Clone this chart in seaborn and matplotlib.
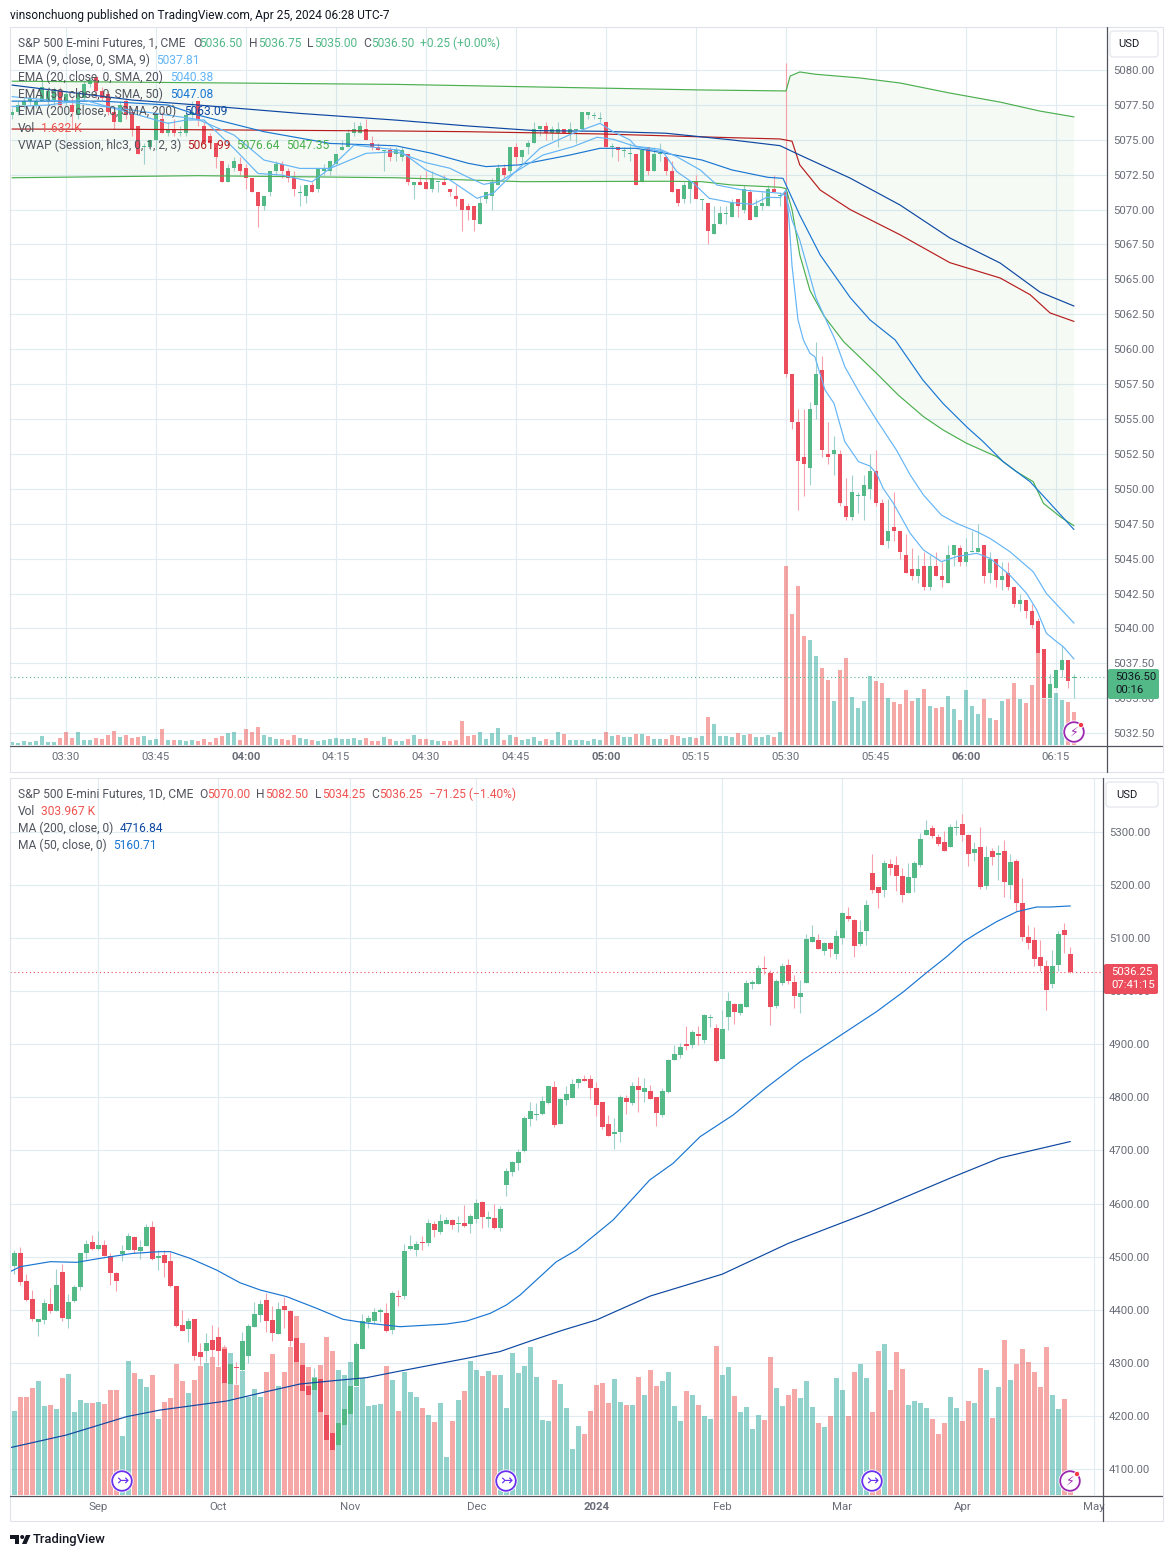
import numpy as np
import matplotlib
matplotlib.use("Agg")
import matplotlib.pyplot as plt
import seaborn as sns
from matplotlib.patches import Rectangle, Circle, FancyBboxPatch, Polygon

# ---------- 1 minute pane ----------
min_open = [5076.75,5077,5077.5,5077.75,5077.5,5077.75,5077.75,5077.75,5078.5,5077.75,
 5077.5,5076.75,5078,5079,5079.5,5078.5,5078.25,5077,5076.25,5077.75,
 5077,5076,5074.5,5074.5,5075,5076.5,5075.5,5075.75,5075.5,5075.5,
 5076.75,5077.75,5076,5075.25,5074.75,5073.5,5072,5073,5073.25,5073,
 5072.25,5071.25,5070.25,5071.25,5072.75,5073.25,5072.75,5072.25,5071.25,5071,
 5071.75,5071.5,5072.75,5072.75,5073.25,5074.25,5074.5,5075.5,5075.5,5075.75,
 5074.75,5074.5,5074.25,5074.25,5074,
 5073.75,5074,5071.75,5072,5072,5071.5,5072,5072,5071.5,5071,
 5070.75,5070.25,5070.25,5069,5070.75,5071,5071.75,5073,5072.75,5074.5,
 5073.75,5074.5,5074.75,5075.75,5076,5075.5,5075.5,5075.75,5075.5,5075.75,
 5075.75,5076.75,5076.75,5076.5,5076.25,5074.5,5074.5,5074.25,5074,5074,
 5072,5074.5,5072.75,5074,5073.75,5072.75,5071.5,5070.75,5071.5,5072,
 5070.75,5070.5,5068.25,5069,5069.75,5069.5,5070.75,5070,5071.25,5069.5,
 5070.25,5070.25,5071.5,5071,
 5071.25,5058.25,5054.75,5052.25,5051.5,5056,5058.5,5052.5,5052.5,5052.5,
 5048.75,5048,5049.5,5049.5,5050,5051.25,5049,5046.25,5047.25,5047,
 5045.25,5044.25,5043.75,5044.5,5043,5044.5,5043.75,5043.25,5045.25,5045.75,
 5044.75,5045.5,5045.5,5046,5044,5045,5043.5,5044,5043,5041.75,
 5042,5041.25,5040.5,5038.5,5035,5035.75,5037,5037.75,5036.5]
min_high = [5077.25,5077.75,5078,5078.25,5078,5079.25,5078.75,5078.75,5078.75,5078.5,
 5078,5078.5,5079.25,5079.5,5079.5,5078.75,5078.5,5077.25,5077.75,5078,
 5077.25,5076,5074.75,5075,5077,5077,5076.25,5076.5,5076,5077,
 5077.75,5077.75,5076.25,5075.5,5074.75,5073.5,5073.25,5073.75,5073.75,5073.25,
 5072.25,5071.25,5071,5072.75,5073.5,5073.5,5073,5072.75,5071.75,5071.75,
 5072,5073,5073.25,5073.5,5074,5075,5075.75,5076.25,5076.25,5076.5,
 5075.25,5074.75,5074.25,5074.5,5074.5,
 5074.5,5074,5072,5072.5,5072.75,5072.75,5072,5072.5,5071.5,5071.75,
 5070.75,5070.5,5070.25,5071,5071.25,5072.25,5073.25,5073.25,5074.5,5074.75,
 5074.25,5075,5076.25,5076,5076.25,5076,5076.25,5075.75,5076.25,5075.75,
 5077,5077,5077,5077,5076.25,5074.75,5074.5,5074.5,5074.75,5074,
 5074.25,5074.5,5074.5,5074.75,5073.75,5073.5,5071.5,5072,5072,5072.5,
 5070.75,5070.5,5070.25,5070.25,5070.25,5070.75,5070.75,5071.75,5071.5,5070.75,
 5071.25,5071.75,5072.5,5071.25,
 5080.5,5058.25,5055.75,5055.75,5056.25,5060.5,5059.5,5054.75,5053.75,5052.75,
 5050.75,5051,5049.75,5051,5052.5,5052.75,5049.25,5049.25,5049.75,5047,
 5046.75,5045.75,5045.25,5045.5,5045.25,5045.5,5044.75,5046,5046,5046,
 5046.5,5047,5047.5,5046,5045.5,5045,5044.75,5044.75,5043,5042.5,
 5042,5041.75,5040.75,5038.5,5036.75,5037,5038.75,5037.75,5036.75]
min_low = [5076.5,5076.75,5077.25,5077.5,5077.25,5077.75,5077.5,5077.5,5077.25,5077.5,
 5075.75,5076.5,5077.75,5078.75,5078,5077.75,5076.75,5075.75,5076.25,5076.5,
 5075.25,5074,5073.25,5074.25,5074.25,5075.5,5075.25,5075.25,5075.25,5075.25,
 5076.5,5076,5074.75,5074.75,5073,5072,5072,5072.75,5072.5,5071.5,
 5071.25,5068.75,5070,5071,5072.5,5072.25,5072,5071,5070.25,5070.5,
 5071.25,5071.25,5072.5,5072.5,5073.25,5074.25,5074.5,5075.25,5075.5,5075,
 5074.25,5074.25,5072.75,5073.5,5073.5,
 5073.5,5071.75,5070.75,5071.75,5071.5,5071.25,5071.25,5071.75,5071,5070.25,
 5068.5,5069.25,5068.5,5069,5070.5,5070,5071.75,5072.25,5072.5,5073.25,
 5073.25,5074,5074.75,5075.25,5075,5075,5074.5,5075.5,5075,5074.75,
 5075.75,5076.5,5076.5,5076.25,5074.5,5073.75,5073.5,5073.75,5073.5,5071.75,
 5072,5072.5,5072.75,5073.5,5072.5,5071.25,5070.25,5070.5,5070.5,5070.75,
 5070,5067.5,5068.25,5069,5069,5069.5,5069.5,5069.75,5069.25,5069.5,
 5070,5070.25,5071.25,5070.25,
 5058,5054.25,5048.5,5049.5,5050.25,5055,5052.25,5051.75,5051,5048.75,
 5047.75,5047.75,5048.25,5047.75,5049.25,5048.75,5046,5045.75,5046.25,5045,
 5044,5043.5,5043.25,5042.75,5042.75,5043.75,5043,5043.25,5044.5,5044.5,
 5044.5,5045.5,5045.5,5043.25,5043.25,5043,5042.75,5042.75,5041.5,5041.25,
 5040.75,5040,5038.25,5035,5035,5035.75,5036.5,5035.75,5035]
min_close = [5077,5077.5,5077.75,5078,5077.75,5078.75,5078.5,5078.5,5077.5,5078.25,
 5077,5078.25,5079,5079.25,5078.5,5078,5077,5076.25,5077.5,5076.75,
 5075.75,5074,5074.5,5075,5076.75,5075.5,5075.75,5075.5,5075.5,5076.75,
 5077,5076.5,5074.75,5074.75,5073.75,5072,5073,5073.5,5072.75,5072.25,
 5071.25,5070.25,5071,5072.75,5073.25,5072.75,5072.25,5071.5,5071.25,5071.75,
 5071.25,5073,5073,5073.5,5074,5074.5,5075.5,5075.75,5076,5075,
 5074.5,5074.25,5074.25,5073.75,5074.25,
 5074.25,5072,5072,5071.75,5071.5,5072.25,5072,5071.75,5071.25,5070.75,
 5070,5070,5069.25,5070.5,5071.25,5072,5073,5072.5,5074.5,5073.75,
 5074.25,5074.75,5075.75,5076,5075.5,5075.75,5075.75,5075.5,5075.75,5075.75,
 5077,5077,5076.75,5076.5,5074.5,5074.5,5074.25,5074.25,5074,5071.75,
 5074.25,5072.75,5074,5074,5072.75,5071.25,5070.5,5071.75,5072,5070.75,
 5070.75,5068.5,5069,5069.75,5069.75,5070.5,5070.25,5071.5,5069.25,5070.25,
 5070.5,5071.5,5071.25,5071,
 5058.25,5054.75,5052,5051.75,5055.75,5058.25,5052.75,5052.25,5052.75,5049,
 5048,5049.75,5049.5,5050.25,5051.25,5049,5046,5047,5047,5045.5,
 5044,5043.75,5044.25,5043,5044.5,5043.75,5043.5,5045.25,5046,5044.75,
 5045.5,5045.5,5045.75,5043.75,5045,5043.5,5043.75,5043,5041.75,5042,
 5041.25,5040.25,5038.25,5035,5036,5037,5037.75,5036.25,5036.5]
min_vol = [.15,.10,.20,.15,.20,.44,.15,.15,.34,.64,.34,.64,.25,.25,.34,.29,.49,.69,.39,.49,
 .34,.39,.44,.25,.29,.78,.25,.25,.25,.20,.25,.20,.29,.15,.34,.44,.59,.64,.25,.78,
 .64,.88,.49,.39,.29,.29,.25,.49,.34,.29,.25,.20,.25,.29,.34,.29,.29,.34,.25,.34,
 .20,.20,.39,.29,.20,.20,.29,.49,.29,.29,.25,.20,.20,.20,.25,1.18,.44,.49,.64,.29,
 .59,.83,.25,.49,.39,.25,.29,.39,.20,.29,.25,.64,.54,.25,.25,.25,.20,.29,.25,.64,
 .44,.49,.39,.39,.54,.54,.44,.29,.29,.29,.49,.44,.34,.39,.34,.44,1.37,1.03,.44,.44,
 .39,.59,.49,.54,.39,.39,.49,.39,.64,
 8.79,6.44,7.81,5.36,5.16,4.38,3.79,3.2,2.17,3.69,4.28,2.37,1.83,2.17,3.4,3.15,3.06,2.32,2.12,2.03,
 2.71,2.17,2.32,2.76,1.93,1.83,1.88,2.42,1.78,1.24,2.71,1.93,1.54,2.27,1.34,1.24,2.17,2.27,3.06,2.27,
 2.08,2.96,4.53,2.27,2.27,2.57,2.22,2.12,1.63]
min_vol_dir = ("GGGGGGGG" "RRRGGGRRRR" "GRRRGGGRGR" "GGGRRRRRGG" "RRRRGGGRRR" "GGRGGGGGGG" "GRRRGRGGRG"
 "RRGGRRRRRR" "GGGGRGRGGG" "GRGGRGGGGG" "GRGRGGRGRG" "GRRRGGRGRG" "GGGRGRGGGR" "GRRRRGGRRG"
 "RRGGGGRRGR" "RRRGRGRRGG" "RGGGRGRGRR" "GRRRRGGGRR")
first_minute = -9   # minutes relative to 03:30

ema9_t = [-9,-3,3,11,17,20,23,28,32,36,41,44,48,55.5,60,64,68.5,71.2,74.6,79,84.5,89,91.2,94,95,99.5,101.8,104.6,107.2,111,114.5,116.8,119,120,120.5,121,122,122.9,124,124.8,126.5,128,129.8,132.1,134,135.1,136.2,137.9,140.7,142.9,145.9,148.4,151.8,154,157.3,160.1,161.8,163.4,165.1,166.2,168]
ema9_v = [5077.37,5077.49,5077.85,5076.9,5076.18,5076.42,5076.42,5074.38,5072.59,5072.47,5071.99,5072.95,5074.62,5074.26,5072.84,5072.12,5070.81,5071.17,5072.6,5074.39,5075.47,5076.18,5075.58,5074.99,5074.51,5074.15,5072.72,5071.88,5070.81,5070.5,5070.38,5070.88,5070.86,5071.4,5069.25,5066,5062.1,5060.66,5059.7,5059.47,5057.08,5056.12,5053.38,5051.94,5051.63,5051.1,5050.03,5048.96,5046.81,5045.62,5044.78,5045.14,5045.38,5045.02,5043.82,5042.51,5041.32,5039.65,5039.05,5038.69,5037.81]
ema20_t = [-9,0,11,22,28,33,39,44,50,55,60,64,66.8,69.6,72.3,76.8,79.5,84.5,88.5,91.2,94.6,99,101.8,105.7,108.5,112.8,119,120,121,122.3,125,128.2,129.8,132.3,135.1,138.4,140.7,142.9,145.9,148.4,151.8,154,157.3,161.2,163.4,168]
ema20_v = [5078.09,5077.73,5077.13,5076.46,5075.34,5073.55,5072.95,5072.95,5074.03,5074.15,5073.36,5072.96,5072.36,5071.81,5072,5073.2,5073.91,5074.51,5075.18,5075.04,5074.56,5074.32,5073.79,5072.84,5071.76,5071.4,5071.17,5071,5069.25,5067.8,5063.67,5060.66,5058.75,5056.84,5054.93,5052.78,5050.99,5049.56,5048.12,5047.53,5046.93,5046.45,5045.5,5044.06,5042.5,5040.38]
ema50_t = [-9,-5,6,17,22,33,44,55,61,67,70,75.5,84,89,95,100,106,111,117,119.5,122.3,125.7,130.7,134,138.2,142.8,146.2,150.2,152.8,156.2,160.7,163.5,168]
ema50_v = [5077.77,5077.77,5077.77,5077.49,5076.77,5075.58,5074.74,5074.57,5074.03,5073.32,5073.08,5073.2,5073.91,5074.39,5074.39,5074.03,5073.55,5072.84,5072.31,5072.24,5069.6,5066.75,5063.7,5062.1,5060.66,5057.8,5056.1,5054.4,5053.4,5051.94,5050.5,5049.2,5047.08]
ema200_t = [-9,0,11,22,39,55,67,78,89,100,111,119,122.3,130.67,139,147.3,155.7,162.3,168]
ema200_v = [5078.92,5078.44,5077.85,5077.49,5076.89,5076.41,5075.99,5075.66,5075.61,5075.47,5074.99,5074.58,5073.91,5072.26,5070.33,5067.97,5066.17,5064.1,5063.09]
vwap_t = [-9,11,55,67,89,111,119,121,122.3,125.7,130.7,139,147.3,155.7,160.7,164,168]
vwap_v = [5075.77,5075.75,5075.63,5075.58,5075.42,5075.15,5075.06,5074.9,5073.2,5071.4,5070,5068.2,5066.2,5065.1,5063.9,5062.6,5061.99]
upper_t = [-9,55,106,120,120.7,122.3,124.8,132.3,139,147.3,155.7,162.3,168]
upper_v = [5079.2,5078.97,5078.57,5078.5,5079.57,5079.86,5079.7,5079.43,5079.07,5078.35,5077.7,5077.06,5076.64]
lower_t = [-9,22,55,76,100,106,111,119,120,121,122.3,124,126.3,129.6,135.1,138.7,142.9,146.2,150.1,155.1,158.4,161.2,162.9,165.7,168]
lower_v = [5072.28,5072.43,5072.28,5072,5072.03,5072,5071.76,5071.6,5071.5,5070,5066.75,5064.2,5062.4,5060.54,5058.27,5056.72,5055.17,5054.21,5053.26,5052.3,5051.23,5050.51,5048.96,5048,5047.35]

min_ticks = [0,15,30,45,60,75,90,105,120,135,150,165]
min_tick_labels = ["03:30","03:45","04:00","04:15","04:30","04:45","05:00","05:15","05:30","05:45","06:00","06:15"]
min_bold = ["04:00","05:00","06:00"]
min_price_ticks = [5032.5,5035,5037.5,5040,5042.5,5045,5047.5,5050,5052.5,5055,5057.5,5060,5062.5,5065,5067.5,5070,5072.5,5075,5077.5,5080]

# ---------- daily pane ----------
day_open = [4513,4483,4506.8,4454,4420,4376.9,4380.6,4410.8,4397.6,4471,4382.5,4416.4,4442.8,4506.8,4527.6,4514.4,4522,4501,4469,4505,
 4512.5,4537,4510.6,4520,4555.8,4497.4,4503,4491.8,4444.7,4371,4363.7,4382.5,4320,4322,4343,4348.6,4326,4260,4291.5,4286.4,
 4312.8,4367.4,4390,4418.3,4380.6,4354.2,4407,4397.6,4346.7,4295.8,4256.3,4248.7,4269.5,4201.6,4167.7,4145,4182.8,4203.5,4256.3,4326,
 4376.9,4378.7,4395.7,4393.8,4361.8,4425.5,4425.8,4514.3,4512.5,4527,4525.6,4561.4,4546.4,4561.4,4569,4561.4,4563.3,4561.4,4570.9,4602.9,
 4570.9,4572.7,4554,4635,4659.4,4676.4,4699,4759.3,4766.8,4768.7,4789.4,4819.6,4749.9,4795,4798.9,4827.1,4834.7,4834.7,4817.7,4791.3,
 4749.9,4731,4734.8,4798.9,4789.4,4821.5,4810.2,4812,4800.8,4766.8,4810.2,4870.5,4879.9,4900.6,4898.7,4919.4,4908,4951,4930.7,4872.3,
 4951.4,4975.9,4959,4970.3,5013.6,5013.6,5043,5034.3,4972.2,5015.5,5049.4,5017.4,4989,5015.5,5092.7,5096.5,5075.8,5090.8,5070.1,5100.2,
 5141.7,5134.2,5088.9,5113.4,5222.7,5196.3,5190.7,5239.7,5237.8,5217,5185,5213.3,5237.8,5294.3,5307.5,5290.5,5281,5271.7,5308,5315,
 5294.3,5260.4,5271.7,5198.2,5264.2,5256.6,5264.2,5200.1,5245.3,5166.2,5102.1,5096.5,5064.5,5047.5,5013.6,5049.4,5115.3,5070]
day_high = [4520,4512.5,4518,4467.3,4437,4382.5,4420.2,4441,4476.7,4486,4429.6,4446.6,4506.8,4531.3,4540.8,4548.3,4531.3,4506,4471.7,4522,
 4544,4539,4531.3,4561.5,4567,4512.5,4512.5,4509.4,4444.7,4399.5,4384.4,4382.5,4336.7,4355.5,4371,4368,4333.5,4311.5,4301,4358,
 4374,4415,4418,4431,4407,4414,4424,4399.5,4346.7,4295.8,4256,4289.6,4269.5,4201.6,4167.7,4198.5,4223.6,4264,4340,4392,
 4390,4403,4403,4412.6,4435,4437,4523.8,4540.7,4529.4,4538.8,4570.9,4567,4580,4574.6,4570.9,4576.5,4597.2,4580.3,4608.5,4604.8,
 4586,4599,4595.4,4666.4,4680,4702.8,4765,4791.3,4789.4,4802.6,4821.5,4831,4798.9,4821.5,4834.7,4836.5,4842.2,4842.2,4829,4791.3,
 4766.8,4761.2,4804.5,4804.5,4829,4838.4,4836.5,4823.4,4800.8,4817.7,4872.3,4898.7,4902.5,4934.5,4927,4934.5,4957.1,4957.1,4938.3,4964.7,
 4998.5,4977,4978,5021,5021,5049.4,5066.4,5040,5023,5053.2,5060.7,5030.5,5021,5107.8,5124.7,5107.8,5093,5093,5115.3,5149.2,
 5158.7,5136,5134.2,5171.8,5258.5,5196.3,5247.2,5249,5254.7,5232,5241.5,5245.3,5298,5322.6,5313,5296,5301.8,5315,5322.6,5333.9,
 5296,5281,5309.4,5273.6,5269.8,5275.5,5284.9,5258.5,5249,5213.3,5124.7,5121,5096.5,5058.8,5077.6,5113.4,5128.5,5082.5]
day_low = [4480,4467.3,4446.6,4417,4379.4,4350.5,4373,4393,4397,4379.4,4365.5,4414.5,4437,4495,4512.5,4512.5,4501,4446.6,4435,4491.8,
 4512.5,4507.5,4495.5,4520,4493.7,4475,4461.6,4442.8,4368,4360,4339,4305,4295.8,4301.5,4310,4295.8,4260,4236,4260,4258,
 4299,4367,4377.5,4358.6,4341,4354,4365,4331.6,4301.5,4246,4239,4230,4207,4154.5,4135.7,4145,4182.8,4189,4256,4326,
 4365,4373,4377,4358,4354,4407,4420,4512.5,4501,4512.5,4520,4537,4542.6,4561,4552,4546.4,4555.8,4544.5,4563.3,4554,
 4555.8,4552,4549,4614.2,4651.9,4663.2,4697,4746,4757.4,4766.8,4787.6,4744.2,4749.9,4785.7,4798.9,4817.7,4830,4797,4765,4740.5,
 4727.3,4702.8,4716,4768.7,4785.7,4772.5,4791.3,4797,4746,4763,4808.3,4870.5,4874.2,4889.3,4893,4898.7,4902.5,4932.6,4866.7,4872.3,
 4927,4938,4955,4970.3,5004.2,5013.6,5032.4,4936.4,4968.4,5011.8,5013.6,4969,4959.6,5015.5,5092.7,5079.5,5068.2,5064.5,5060.7,5088.9,
 5132.3,5064.5,5085.2,5087,5185,5156.8,5177.5,5219,5188.8,5168,5185,5187,5234,5294.3,5288.6,5273.6,5264.2,5271.7,5294,5283,
 5236,5245.3,5192.6,5192.6,5237.8,5209.5,5177.5,5173.7,5151,5094.6,5079.5,5047.5,5038,4964.6,5006,5038,5072,5034.25]
day_close = [4485,4507.5,4452.8,4418.3,4382.5,4382.5,4412.6,4397.6,4446.6,4384.4,4414.5,4442.8,4506.8,4523.8,4514.4,4522,4501,4469,4454,4510.6,
 4538.9,4512.5,4518,4555.8,4495.5,4501,4488,4444.7,4369.3,4360,4378.7,4312.8,4310.9,4337.3,4324,4322,4262,4297.7,4291,4341,
 4369.3,4392,4410.8,4378.7,4356,4401.3,4399.5,4341,4301.5,4246.9,4239.3,4271.3,4207.3,4154.5,4135.7,4186.6,4213,4256.3,4335.4,4378.7,
 4384.4,4395.7,4399.5,4360,4431.5,4424.5,4510.6,4520,4523.8,4526,4563.3,4550,4567,4569,4559.5,4563.3,4557.7,4576.5,4601,4574.6,
 4574.6,4554,4589.7,4661.3,4678.3,4697.1,4761.2,4774.4,4768.7,4793.2,4821.5,4748,4797,4806.4,4825.3,4834.7,4830.9,4817.7,4785.7,4744.2,
 4727.3,4734.8,4800.8,4791.3,4821.5,4814,4817.7,4797,4770.6,4812,4870.5,4881.8,4895,4896.8,4923.2,4915.7,4955.2,4951.5,4868.6,4928.9,
 4981.6,4960.9,4975.9,5015.5,5017.4,5043.7,5042,4970.3,5019.3,5047.5,5019.3,4991,4996.6,5098.4,5102.1,5079.5,5090.8,5079.5,5104,5147.3,
 5136,5085.2,5111.6,5162.4,5190.7,5185,5241.5,5232.1,5217,5181.3,5215.2,5241.5,5286.8,5303.7,5292.4,5277.3,5264.2,5309.4,5309.4,5294.3,
 5258.5,5267.9,5196.3,5252.9,5252.9,5260.4,5205.8,5243.4,5166.2,5102.1,5090.8,5060.7,5047.5,5002.3,5047.5,5107.8,5105.9,5036.25]
day_vol = [1782,1512,1764,1764,1926,2052,1602,1620,1548,2106,2178,1494,1710,1656,1656,1674,1638,1890,1890,1062,
 2412,2196,2088,1944,2160,1368,1674,1746,2358,2052,1836,2070,2322,2376,2484,2304,2664,2556,1980,2232,
 1764,1908,1764,2214,2538,1962,2214,2664,3222,2736,2304,2124,2340,2844,2592,2250,2160,2394,1944,2106,
 1602,1620,1638,2322,2070,1512,2214,1854,1764,1566,1440,1314,1656,684,1332,1710,1872,2412,2250,2142,
 2232,2160,2160,1566,2556,2196,2322,2664,2124,1350,1332,2070,1998,1566,828,1242,1098,1512,1980,2016,
 1656,2088,1674,1620,1620,2124,1800,2250,1962,2052,2214,1602,1332,1872,1800,1620,1422,1368,2682,2160,
 2304,1782,1494,1584,1188,1440,1350,2484,1926,1602,1800,1908,1746,2052,1584,1296,1224,1422,2106,1890,
 1422,2214,2358,2106,1494,2592,2718,1890,2574,2268,1620,1692,1656,1566,1368,1098,1296,1764,1566,1332,
 1692,1656,2286,2250,1386,1944,2790,2070,2358,2628,2394,2214,1944,2664,1800,1548,1728,304]
first_day = -1

ma50_i = [-0.7,1,6,10.4,14.3,19.8,24.3,26,29.3,33.7,37.6,41,45.4,50.4,54.8,58.7,64.3,72,75.4,79.3,82,84.3,87.6,90.3,93.7,99.8,102.6,105.9,109.8,114.3,119.8,125.4,131,136.5,143.7,148.2,152.1,155.4,158.2,160.4,163.7,167.1,170.4,172.7,176]
ma50_v = [4471.7,4481.1,4490.5,4489.3,4496.8,4506.2,4509.4,4509.4,4496.8,4474.8,4450.9,4437.1,4424.6,4402.6,4381.9,4375,4368,4373,4378.7,4393.1,4408.8,4427.7,4462,4490,4512.5,4569,4603.6,4644.4,4675.8,4726,4766.8,4819,4867.3,4908,4961.5,4999.1,5035.6,5065.1,5093.3,5109,5131,5149.9,5158.7,5158.7,5160.71]
ma200_i = [-0.7,8.7,18.7,24.3,35.4,42,47.6,53.2,58.7,64.3,75.4,80.9,86.5,91.5,97,106,118,129,142.6,156,164.3,176]
ma200_v = [4140.1,4164,4198.5,4211,4228,4245.6,4260,4266.3,4272,4284.5,4308.4,4321,4343,4361.8,4380.6,4425.8,4467,4525,4584,4648,4686,4716.84]

day_ticks = [14,34,56,77,97,118,138,158,180]
day_tick_labels = ["Sep","Oct","Nov","Dec","2024","Feb","Mar","Apr","May"]
day_price_ticks = list(range(4100,5400,100))

# ---------- style ----------
UP, DOWN = "#53b987", "#eb4d5c"
WICK_UP, WICK_DOWN = "#9fd0cb", "#f79fab"
VOL_UP, VOL_DOWN = "#26a69a", "#ef5350"
GRID = "#e1ebf2"
AXIS = "#50535e"
TXT = "#51545e"
W, H = 1173, 1557
FS = 8.65
FT = 8.2

sns.set_theme(style="white")
plt.rcParams["font.family"] = ["Roboto", "DejaVu Sans"]
fig = plt.figure(figsize=(W/100, H/100), dpi=100, facecolor="white")

def rect(x0, y0, x1, y1):
    return [x0/W, 1-y1/H, (x1-x0)/W, (y1-y0)/H]

def candles(ax, x, o, h, l, c, px):
    x, o, h, l, c = map(np.asarray, (x, o, h, l, c))
    up = c >= o
    ax.vlines(x[up], l[up], h[up], colors=WICK_UP, lw=0.8, zorder=2)
    ax.vlines(x[~up], l[~up], h[~up], colors=WICK_DOWN, lw=0.8, zorder=2)
    body = np.maximum(np.abs(c-o), 1.0/px)
    base = np.where(np.abs(c-o) < 1.0/px, (c+o)/2-0.5/px, np.minimum(o, c))
    ax.bar(x[up], body[up], bottom=base[up], width=0.83, color=UP, linewidth=0, zorder=3)
    ax.bar(x[~up], body[~up], bottom=base[~up], width=0.83, color=DOWN, linewidth=0, zorder=3)

def make_pane(r, xlim, ylim, vmax, ticks, labels, bold, pt, vx, vy, vd):
    bg = fig.add_axes(r, zorder=1)
    vol = fig.add_axes(r, zorder=2, facecolor="none")
    pr = fig.add_axes(r, zorder=3, facecolor="none")
    bg.set_xticks(ticks); bg.set_xticklabels(labels)
    bg.set_yticks(pt); bg.set_yticklabels([f"{p:.2f}" for p in pt])
    bg.set_xlim(xlim); bg.set_ylim(ylim)
    bg.yaxis.tick_right()
    bg.grid(True, color=GRID, lw=0.85)
    bg.set_axisbelow(True)
    bg.tick_params(length=0, labelsize=FT, colors="#6a6d78")
    bg.tick_params(axis="x", pad=5.2)
    bg.tick_params(axis="y", pad=4.4)
    for t in bg.get_xticklabels():
        if t.get_text() in bold:
            t.set_fontweight("bold")
    for a in (bg, vol, pr):
        for s in a.spines.values():
            s.set_visible(False)
    sns.barplot(x=vx, y=vy, hue=list(vd), hue_order=["G", "R"],
                palette={"G": VOL_UP, "R": VOL_DOWN}, native_scale=True, dodge=False,
                width=0.83, legend=False, saturation=1, alpha=0.5, linewidth=0, ax=vol)
    vol.set_xlim(xlim); vol.set_ylim(0, vmax)
    vol.set_xticks([]); vol.set_yticks([]); vol.set_xlabel(""); vol.set_ylabel("")
    pr.set_xlim(xlim); pr.set_ylim(ylim)
    pr.set_xticks([]); pr.set_yticks([])
    return pr

def line(ax, x, y, color, lw=0.85, z=4):
    sns.lineplot(x=x, y=y, color=color, lw=lw, estimator=None, sort=False, ax=ax, zorder=z, legend=False)
    ax.set_xlabel(""); ax.set_ylabel("")

# top pane
t_min = np.arange(len(min_close)) + first_minute
top_ylim = (5080-(745-70)/13.96, 5080+(70-27)/13.96)
top_xlim = ((10-66)/6, (1107-66)/6)
ax1 = make_pane(rect(10, 27, 1107, 745), top_xlim, top_ylim, 718/20.4,
                min_ticks, min_tick_labels, min_bold, min_price_ticks, t_min, min_vol, min_vol_dir)
ax1.fill(np.r_[upper_t, lower_t[::-1]], np.r_[upper_v, lower_v[::-1]], color="#4caf50", alpha=0.055, lw=0, zorder=1)
candles(ax1, t_min, min_open, min_high, min_low, min_close, 13.96)
line(ax1, upper_t, upper_v, "#4caf50")
line(ax1, lower_t, lower_v, "#4caf50")
line(ax1, vwap_t, vwap_v, "#b71c1c")
line(ax1, ema200_t, ema200_v, "#0d47a1")
line(ax1, ema50_t, ema50_v, "#1976d2")
line(ax1, ema20_t, ema20_v, "#64b5f6")
line(ax1, ema9_t, ema9_v, "#64b5f6")
ax1.axhline(min_close[-1], color=UP, lw=0.8, ls=(0, (1, 2.5)), zorder=5)
ax1.set_xlim(top_xlim); ax1.set_ylim(top_ylim)

# bottom pane
t_day = np.arange(len(day_close)) + first_day
bot_ylim = (5300-(1495-832)/0.5308, 5300+(832-778)/0.5308)
bot_xlim = ((10-14.3)/6, (1103-14.3)/6)
day_dir = ["G" if c >= o else "R" for o, c in zip(day_open, day_close)]
ax2 = make_pane(rect(10, 778, 1103, 1495), bot_xlim, bot_ylim, 717*18,
                day_ticks, day_tick_labels, ["2024"], day_price_ticks, t_day, day_vol, day_dir)
candles(ax2, t_day, day_open, day_high, day_low, day_close, 0.5308)
line(ax2, ma200_i, ma200_v, "#0d47a1")
line(ax2, ma50_i, ma50_v, "#1976d2")
ax2.axhline(day_close[-1], color=DOWN, lw=0.8, ls=(0, (1, 2.5)), zorder=5)
ax2.set_xlim(bot_xlim); ax2.set_ylim(bot_ylim)

# overlay in pixel units: frames, price labels, legends
ov = fig.add_axes([0, 0, 1, 1], zorder=10, facecolor="none")
ov.set_xlim(0, W); ov.set_ylim(H, 0); ov.axis("off")
for y0, y1 in ((27, 772), (778, 1521)):
    ov.add_patch(Rectangle((9.5, y0), 1153, y1-y0, fc="none", ec="#e0e3eb", lw=0.8))
ov.plot([10, 1162], [745.5, 745.5], color=AXIS, lw=0.9)
ov.plot([1107, 1107], [27, 772], color=AXIS, lw=0.9)
ov.plot([10, 1162], [1495.5, 1495.5], color=AXIS, lw=0.9)
ov.plot([1103, 1103], [778, 1521], color=AXIS, lw=0.9)

def T(x, y, s, color=TXT, size=FS, **kw):
    ov.text(x, y, s, color=color, fontsize=size, va="center", ha=kw.pop("ha", "left"), **kw)

T(10, 15, "vinsonchuong published on TradingView.com, Apr 25, 2024 06:28 UTC-7", color="#131722", size=8.56)
for x0, y0, x1, y1 in ((1110, 31, 1158, 57), (1106, 782, 1158, 807)):
    ov.add_patch(FancyBboxPatch((x0, y0), x1-x0, y1-y0, boxstyle="round,pad=0,rounding_size=3",
                               fc="white", ec="#e0e3eb", lw=0.8))
    T((x0+x1)/2-5, (y0+y1)/2, "USD", color="#131722", size=8, ha="center")

ov.add_patch(FancyBboxPatch((1108, 669), 51, 30, boxstyle="round,pad=0,rounding_size=2", fc=UP, ec="none"))
T(1115, 677, "5036.50", color="#131722", size=FT)
T(1115, 690, "00:16", color="#131722", size=FT)
ov.add_patch(FancyBboxPatch((1104, 964), 54, 30, boxstyle="round,pad=0,rounding_size=2", fc=DOWN, ec="none"))
T(1111, 972, "5036.25", color="white", size=FT)
T(1111, 985, "07:41:15", color="white", size=FT)

G, R = "#53b987", "#ef5350"
LB, MB, NB = "#64b5f6", "#1976d2", "#0d47a1"
top_legend = [
    (43, [(18, "S&P 500 E-mini Futures, 1, CME", TXT), (193, "O", TXT), (199, "5036.50", G), (249, "H", TXT), (258, "5036.75", G),
          (307, "L", TXT), (314, "5035.00", G), (363, "C", TXT), (371, "5036.50", G), (420, "+0.25 (+0.00%)", G)]),
    (60, [(18, "EMA (9, close, 0, SMA, 9)", TXT), (156, "5037.81", LB)]),
    (77, [(18, "EMA (20, close, 0, SMA, 20)", TXT), (170, "5040.38", LB)]),
    (94, [(18, "EMA (50, close, 0, SMA, 50)", TXT), (170, "5047.08", MB)]),
    (111, [(18, "EMA (200, close, 0, SMA, 200)", TXT), (184, "5063.09", NB)]),
    (128, [(18, "Vol", TXT), (41, "1.632 K", R)]),
    (145, [(18, "VWAP (Session, hlc3, 0, 1, 2, 3)", TXT), (187.5, "5061.99", "#b71c1c"), (236.5, "5076.64", "#4caf50"), (286.5, "5047.35", "#4caf50")]),
]
bot_legend = [
    (794, [(18, "S&P 500 E-mini Futures, 1D, CME", TXT), (199, "O", TXT), (207, "5070.00", R), (256, "H", TXT), (265, "5082.50", R),
           (315, "L", TXT), (322, "5034.25", R), (371, "C", TXT), (379, "5036.25", R), (429, "\u221271.25 (\u22121.40%)", R)]),
    (811, [(18, "Vol", TXT), (41, "303.967 K", R)]),
    (828, [(18, "MA (200, close, 0)", TXT), (120, "4716.84", NB)]),
    (845, [(18, "MA (50, close, 0)", TXT), (113, "5160.71", MB)]),
]
for y, parts in top_legend + bot_legend:
    for x, s, c in parts:
        T(x, y, s, color=c)

# event badges
for cx in (122, 506, 872):
    ov.add_patch(Circle((cx, 1481), 11.5, fc="white", ec="none"))
    ov.add_patch(Circle((cx, 1481), 9.8, fc="white", ec="#6a30f0", lw=1.3))
    T(cx, 1481, "\u21a3", color="#6a30f0", size=10.5, ha="center", family="DejaVu Sans")
for cx, cy in ((1074, 732), (1070, 1481)):
    ov.add_patch(Circle((cx, cy), 11.5, fc="white", ec="none"))
    ov.add_patch(Circle((cx, cy), 9.8, fc="white", ec="#9c27b0", lw=1.3))
    T(cx, cy, "\u26a1", color="#9c27b0", size=9, ha="center", family="DejaVu Sans")
    ov.add_patch(Circle((cx+7, cy-7), 2.6, fc="#f23645", ec="white", lw=0.6))

# footer mark
ov.add_patch(Rectangle((10, 1535), 9, 4, fc="#131722", ec="none"))
ov.add_patch(Rectangle((15, 1535), 4, 9, fc="#131722", ec="none"))
ov.add_patch(Circle((22.2, 1537), 2, fc="#131722", ec="none"))
ov.add_patch(Polygon([(26, 1535), (30.5, 1535), (26.5, 1544), (22, 1544)], fc="#131722", ec="none"))
T(33, 1540, "TradingView", color="#131722", size=9.4, fontweight="medium")

fig.savefig("out.png", dpi=100, facecolor="white")
